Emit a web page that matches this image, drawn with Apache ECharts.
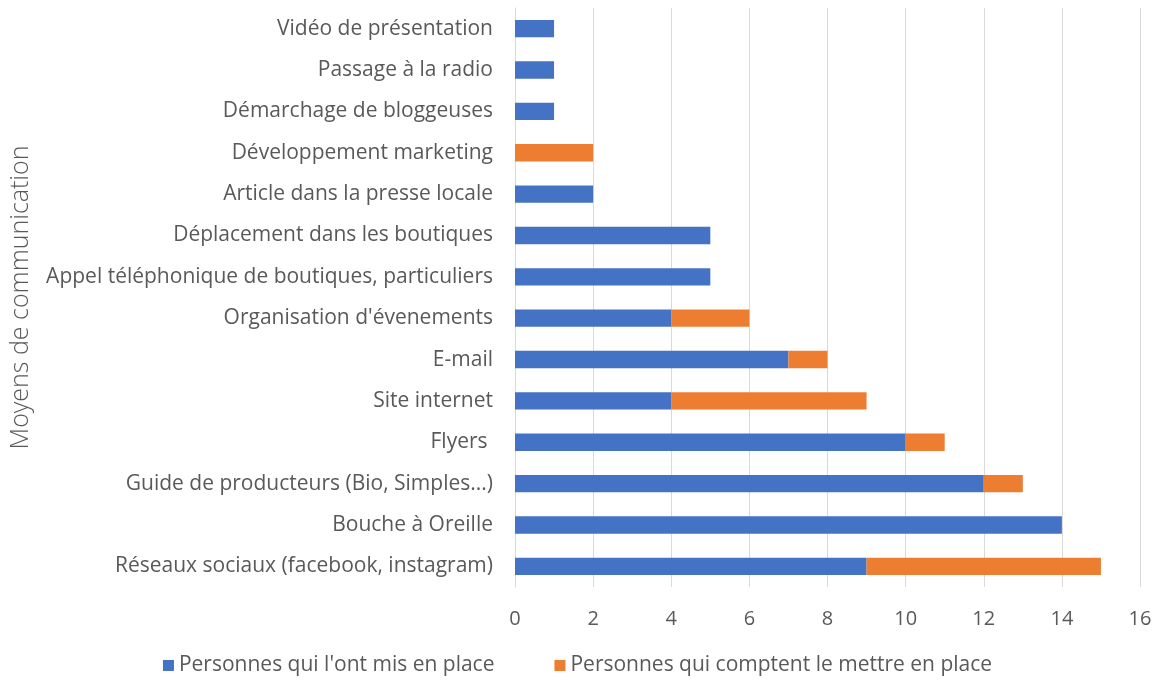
<!DOCTYPE html>
<html lang="fr">
<head>
<meta charset="UTF-8">
<title>Moyens de communication</title>
<style>
  html, body { margin: 0; padding: 0; background: #fff; }
  #chart { width: 1155px; height: 684px; }
</style>
</head>
<body>
<div id="chart"></div>
<script src="https://cdn.jsdelivr.net/npm/echarts@6/dist/echarts.min.js"></script>
<script>
// catégories, du bas vers le haut
var categories = [
  "Réseaux sociaux (facebook, instagram)",
  "Bouche à Oreille",
  "Guide de producteurs (Bio, Simples...)",
  "Flyers ",
  "Site internet",
  "E-mail",
  "Organisation d'évenements",
  "Appel téléphonique de boutiques, particuliers",
  "Déplacement dans les boutiques",
  "Article dans la presse locale",
  "Développement marketing",
  "Démarchage de bloggeuses",
  "Passage à la radio",
  "Vidéo de présentation"
];
var misEnPlace = [9, 14, 12, 10, 4, 7, 4, 5, 5, 2, 0, 1, 1, 1];
var comptent   = [6, 0, 1, 1, 5, 1, 2, 0, 0, 0, 2, 0, 0, 0];
var seriesNames = ["Personnes qui l'ont mis en place", "Personnes qui comptent le mettre en place"];

var chart = echarts.init(document.getElementById('chart'));
var font = "'Open Sans', sans-serif";

var option = {
  animation: false,
  textStyle: { fontFamily: font },
  grid: { left: 515, right: 15, top: 8, bottom: 97 },
  legend: {
    bottom: 3,
    left: 'center',
    itemWidth: 11,
    itemHeight: 11,
    itemGap: 60,
    icon: 'rect',
    textStyle: { fontSize: 21, color: '#595959', fontFamily: font },
    data: seriesNames
  },
  xAxis: {
    type: 'value',
    min: 0,
    max: 16,
    interval: 2,
    axisLine: { show: false },
    axisTick: { show: false },
    axisLabel: { fontSize: 20, color: '#595959', margin: 22 },
    splitLine: { lineStyle: { color: '#d9d9d9', width: 1 } }
  },
  yAxis: {
    type: 'category',
    data: categories,
    name: 'Moyens de communication',
    nameLocation: 'middle',
    nameGap: 482,
    nameTextStyle: { fontSize: 25, color: '#595959', fontWeight: 300 },
    axisLine: { show: true, lineStyle: { color: '#d9d9d9' } },
    axisTick: { show: false },
    axisLabel: { fontSize: 21, color: '#595959', margin: 22 }
  },
  series: [
    {
      name: seriesNames[0],
      type: 'bar',
      stack: 'total',
      barWidth: '42%',
      itemStyle: { color: '#4472c4' },
      data: misEnPlace
    },
    {
      name: seriesNames[1],
      type: 'bar',
      stack: 'total',
      barWidth: '42%',
      itemStyle: { color: '#ed7d31' },
      data: comptent
    }
  ]
};

chart.setOption(option);
</script>
</body>
</html>
